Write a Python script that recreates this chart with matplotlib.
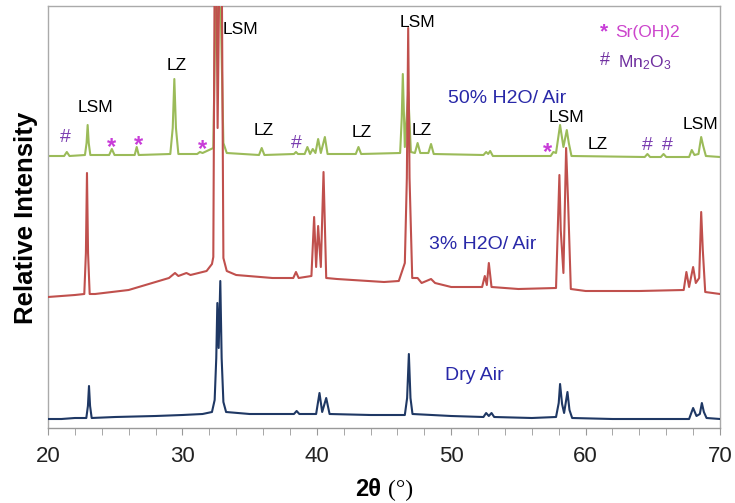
import matplotlib
matplotlib.use("Agg")
import matplotlib.pyplot as plt
from matplotlib.ticker import MultipleLocator

plt.rcParams['font.family'] = ['Liberation Sans', 'DejaVu Sans']
plt.rcParams['mathtext.fontset'] = 'custom'
plt.rcParams['mathtext.rm'] = 'Liberation Sans'
plt.rcParams['mathtext.it'] = 'Liberation Sans:italic'

# ---------------- data (2theta in degrees, relative intensity, arbitrary offset units) ----------------
dry_x = [20.0, 21.0, 22.0, 22.85, 22.97, 23.05, 23.13, 23.25, 25.0, 28.0, 30.0, 31.5, 32.2, 32.4, 32.52,
         32.6, 32.7, 32.82, 32.92, 33.05, 33.25, 35.0, 38.3, 38.5, 38.7, 39.95, 40.2, 40.4, 40.7, 40.95,
         44.0, 46.55, 46.72, 46.85, 46.97, 47.12, 50.0, 52.4, 52.6, 52.8, 53.0, 53.2, 56.0, 57.8, 58.0,
         58.1, 58.25, 58.4, 58.65, 58.8, 59.0, 62.0, 67.7, 68.0, 68.25, 68.5, 68.65, 68.8, 69.0, 70.0]
dry_y = [9, 9, 10, 10, 22, 42, 22, 10, 11, 12, 13, 14, 16, 28, 70,
         125, 80, 147, 70, 26, 16, 14, 14, 17, 14, 14, 35, 16, 30, 14,
         13, 13, 30, 74, 30, 14, 12, 11, 15, 12, 15, 11, 10, 11, 25,
         44, 24, 15, 36, 18, 10, 9, 9, 20, 12, 14, 25, 16, 10, 9]

h3_x = [20.0, 22.0, 22.7, 22.82, 22.9, 22.98, 23.1, 23.5, 26.0, 29.0, 29.45, 29.7, 30.3, 30.6, 31.5,
        31.8, 32.2, 32.3, 32.45, 32.62, 32.87, 33.05, 33.3, 34.0, 36.7, 38.25, 38.45, 38.65, 39.6, 39.8,
        39.95, 40.1, 40.3, 40.5, 40.7, 41.5, 45.0, 46.1, 46.3, 46.55, 46.7, 46.8, 46.9, 47.1, 47.5,
        47.8, 48.5, 48.8, 50.0, 52.3, 52.5, 52.65, 52.8, 53.0, 55.0, 57.8, 58.05, 58.15, 58.35, 58.55,
        58.7, 58.9, 60.0, 64.0, 67.3, 67.5, 67.7, 68.0, 68.2, 68.45, 68.6, 68.72, 68.9, 70.0]
h3_y = [131, 133, 134, 175, 255, 175, 134, 134, 138, 150, 155, 152, 155, 153, 156,
        157, 164, 171, 600, 300, 600, 170, 157, 153, 150, 150, 156, 150, 152, 211,
        161, 202, 161, 256, 150, 149, 146, 147, 155, 165, 250, 400, 250, 150, 150,
        145, 149, 145, 141, 141, 152, 143, 165, 141, 139, 140, 253, 198, 155, 280,
        225, 139, 137, 137, 138, 156, 141, 161, 145, 150, 216, 178, 136, 134]

h50_x = [20.0, 21.2, 21.4, 21.6, 22.75, 22.87, 22.95, 23.03, 23.15, 24.55, 24.75, 24.95, 26.45, 26.6, 26.75,
         29.1, 29.28, 29.4, 29.52, 29.7, 31.1, 31.3, 31.5, 32.3, 32.5, 32.6, 32.68, 32.85, 33.05, 33.3,
         35.7, 35.9, 36.1, 38.3, 38.45, 38.6, 39.1, 39.3, 39.5, 39.7, 39.9, 40.1, 40.3, 40.6, 40.8,
         42.9, 43.1, 43.3, 46.2, 46.32, 46.4, 46.55, 46.8, 47.0, 47.3, 47.5, 47.7, 48.3, 48.5, 48.7,
         52.4, 52.6, 52.75, 52.9, 53.1, 57.4, 57.6, 57.8, 58.1, 58.35, 58.6, 58.75, 58.95, 64.4, 64.6,
         64.8, 65.6, 65.8, 66.0, 67.7, 67.9, 68.1, 68.4, 68.6, 68.75, 68.95, 70.0]
h50_y = [272, 272, 276, 272, 273, 285, 303, 285, 273, 273, 279, 273, 273, 281, 273,
         274, 300, 349, 300, 274, 274, 276, 275, 280, 450, 380, 600, 420, 285, 275,
         273, 280, 273, 274, 276, 274, 274, 281, 274, 279, 275, 289, 275, 291, 274,
         274, 281, 274, 275, 310, 354, 281, 336, 276, 275, 285, 275, 275, 284, 274,
         273, 276, 274, 277, 272, 272, 276, 275, 303, 281, 298, 285, 272, 271, 274,
         271, 271, 274, 271, 271, 278, 273, 274, 291, 282, 272, 271]

x_major = [20, 30, 40, 50, 60, 70]

# peak / phase annotations: (2theta, y, text)
peak_labels = [(23.5, 320, "LSM"), (29.6, 362, "LZ"), (34.3, 398, "LSM"), (36.07, 297, "LZ"),
               (43.36, 295, "LZ"), (47.46, 405, "LSM"), (47.83, 297, "LZ"), (58.54, 310, "LSM"),
               (60.92, 283, "LZ"), (68.51, 303, "LSM")]
star_marks = [(24.76, 286), (26.77, 288), (31.46, 284), (57.2, 281)]
hash_marks = [(21.26, 290), (38.45, 284), (64.57, 282), (66.06, 282)]
condition_labels = [(54.15, 329, "50% H2O/ Air"), (52.37, 183, "3% H2O/ Air"), (51.7, 53, "Dry Air")]

# ---------------- figure ----------------
fig = plt.figure(figsize=(7.35, 5.03), dpi=100)
ax = fig.add_axes([48/735, 1-428/503, (720-48)/735, (428-6)/503])

ax.plot(h50_x, h50_y, color='#9bbb59', lw=1.5, zorder=2)
ax.plot(h3_x, h3_y, color='#c0504d', lw=1.5, zorder=3)
ax.plot(dry_x, dry_y, color='#1f3864', lw=1.5, zorder=4)

ax.set_xlim(20, 70)
ax.set_ylim(0, 422)
ax.set_yticks([])
ax.xaxis.set_major_locator(MultipleLocator(10))
ax.xaxis.set_minor_locator(MultipleLocator(2))
ax.set_xticks(x_major)
ax.set_xticklabels([str(v) for v in x_major], fontsize=16, color='#222222')
ax.tick_params(axis='x', which='both', direction='out', length=5, color='#999999', pad=8)
for s in ['left', 'right', 'top']:
    ax.spines[s].set_color('#aaaaaa')
    ax.spines[s].set_linewidth(1.0)
ax.spines['bottom'].set_color('#999999')
ax.spines['bottom'].set_linewidth(1.0)

for x, y, t in peak_labels:
    ax.text(x, y, t, ha='center', va='center', fontsize=12.5, color='black', zorder=5)
for x, y in star_marks:
    ax.text(x, y - 6, "*", ha='center', va='center', fontsize=17, fontweight='bold', color='#c83cd8', zorder=5)
for x, y in hash_marks:
    ax.text(x, y, "#", ha='center', va='center', fontsize=14, color='#7a3db0', zorder=5)
for x, y, t in condition_labels:
    ax.text(x, y, t, ha='center', va='center', fontsize=14, color='#2828a8', zorder=5)

# legend for impurity phases
ax.text(61.37, 396, "*", ha='center', va='center', fontsize=15, fontweight='bold', color='#c83cd8')
ax.text(64.64, 395, "Sr(OH)2", ha='center', va='center', fontsize=12.5, color='#cc44cc')
ax.text(61.44, 367, "#", ha='center', va='center', fontsize=13, color='#7030a0')
ax.text(64.42, 365, r"Mn$_\mathregular{2}$O$_\mathregular{3}$", ha='center', va='center', fontsize=12.5, color='#7030a0')

# axis titles
fig.text(26/735, 1-218/503, "Relative Intensity", rotation=90, ha='center', va='center',
         fontsize=18.5, fontweight='bold')
fig.text(368/735, 1-490/503, "2θ", ha='center', va='center', fontsize=17, fontweight='bold')
fig.text(401/735, 1-490/503, "(°)", ha='center', va='center', fontsize=17, family='Liberation Serif')

fig.savefig("out.png", dpi=100)
